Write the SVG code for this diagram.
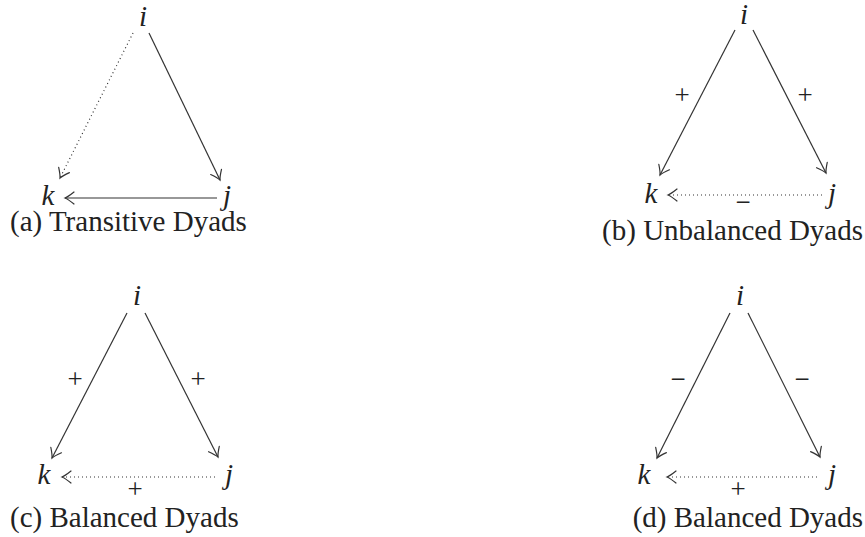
<svg xmlns="http://www.w3.org/2000/svg" width="865" height="537" viewBox="0 0 865 537">
<defs>
<style>
.v{font-style:italic;text-anchor:middle}
.s{text-anchor:middle;font-size:27px}
.e{stroke:#333;stroke-width:1.2;fill:none}
.d{stroke:#333;stroke-width:1.2;fill:none;stroke-dasharray:1 3}
</style>
<marker id="ah" markerUnits="userSpaceOnUse" viewBox="-12 -8 14 16" markerWidth="14" markerHeight="16" refX="0" refY="0" orient="auto" overflow="visible">
<path d="M -9 -6 Q -3 -1.2 0 0 Q -3 1.2 -9 6" fill="none" stroke="#333" stroke-width="1.2" stroke-linecap="round"/>
</marker>
</defs>
<g id="connectors">
<line class="e" x1="149" y1="33" x2="220" y2="180" marker-end="url(#ah)"/>
<line class="d" x1="133" y1="33" x2="60" y2="178" marker-end="url(#ah)"/>
<line class="e" x1="217" y1="198" x2="65" y2="198" marker-end="url(#ah)"/>
<line class="e" x1="735" y1="30" x2="660" y2="175" marker-end="url(#ah)"/>
<line class="e" x1="753" y1="30" x2="826" y2="173" marker-end="url(#ah)"/>
<line class="d" x1="822" y1="195" x2="668" y2="195" marker-end="url(#ah)"/>
<line class="e" x1="127" y1="313" x2="52" y2="458" marker-end="url(#ah)"/>
<line class="e" x1="145" y1="313" x2="218" y2="457" marker-end="url(#ah)"/>
<line class="d" x1="215" y1="477" x2="62" y2="477" marker-end="url(#ah)"/>
<line class="e" x1="730" y1="313" x2="657" y2="458" marker-end="url(#ah)"/>
<line class="e" x1="748" y1="313" x2="820" y2="457" marker-end="url(#ah)"/>
<line class="d" x1="817" y1="477" x2="667" y2="477" marker-end="url(#ah)"/>
</g>
<g font-family="'Liberation Serif', 'DejaVu Serif', serif" font-size="29" fill="#222">
<g id="panel-a">
<text id="a-i" class="v" x="143" y="26">i</text>
<text id="a-k" class="v" x="48" y="205">k</text>
<text id="a-j" class="v" x="227" y="205">j</text>
<text id="a-cap" x="10" y="231">(a) Transitive Dyads</text>
</g>
<g id="panel-b">
<text id="b-i" class="v" x="744" y="24">i</text>
<text id="b-k" class="v" x="651" y="203">k</text>
<text id="b-j" class="v" x="832" y="203">j</text>
<text class="s" x="682" y="104">+</text>
<text class="s" x="805" y="104">+</text>
<text class="s" x="743" y="211">−</text>
<text id="b-cap" x="863" y="240" text-anchor="end">(b) Unbalanced Dyads</text>
</g>
<g id="panel-c">
<text id="c-i" class="v" x="137" y="305">i</text>
<text id="c-k" class="v" x="44" y="484">k</text>
<text id="c-j" class="v" x="229" y="484">j</text>
<text class="s" x="75" y="388">+</text>
<text class="s" x="198" y="388">+</text>
<text class="s" x="135" y="498">+</text>
<text id="c-cap" x="10" y="527">(c) Balanced Dyads</text>
</g>
<g id="panel-d">
<text id="d-i" class="v" x="740" y="305">i</text>
<text id="d-k" class="v" x="644" y="484">k</text>
<text id="d-j" class="v" x="832" y="484">j</text>
<text class="s" x="678" y="388">−</text>
<text class="s" x="802" y="388">−</text>
<text class="s" x="738" y="498">+</text>
<text id="d-cap" x="863" y="527" text-anchor="end">(d) Balanced Dyads</text>
</g>
</g>
</svg>
